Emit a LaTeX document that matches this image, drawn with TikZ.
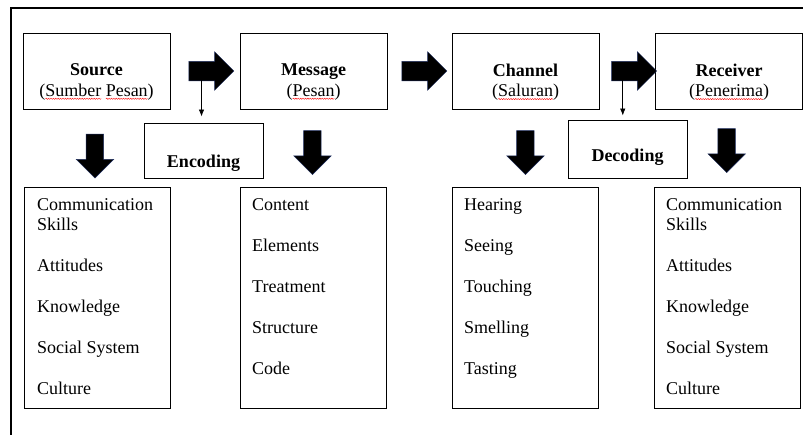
\documentclass[tikz,border=0pt]{standalone}
\usepackage{fontspec}
\setmainfont{Liberation Serif}
\usepackage{xcolor}
\usepackage{tikz}
\usetikzlibrary{positioning}
\usetikzlibrary{calc}
\usetikzlibrary{shapes.arrows}
\usetikzlibrary{arrows.meta}
\usetikzlibrary{decorations.pathmorphing}
\definecolor{pfeilrand}{RGB}{30,45,95}
\newlength\welligbreite
\newcommand\wellig[1]{\settowidth\welligbreite{#1}%
  \rlap{\tikz[baseline=0pt]\draw[red, line width=0.4pt, decorate,
    decoration={snake, amplitude=0.6pt, segment length=2.4pt}]
    (0pt,-2.5pt) -- (\welligbreite,-2.5pt);}#1}
\tikzset{
  Kasten/.style={draw, line width=0.9pt, inner sep=0pt, minimum width=147pt, minimum height=76pt},
  Liste/.style={draw, line width=0.9pt, inner sep=0pt, anchor=north west, minimum width=146pt, minimum height=221pt},
  Code/.style={draw, line width=0.9pt, inner sep=0pt, minimum width=119pt},
  Text/.style={inner sep=0pt, align=center},
  LText/.style={inner sep=0pt, align=left, anchor=north west},
  RPfeil/.style={single arrow, fill=black, draw=pfeilrand, line width=0.5pt, inner xsep=0pt, inner ysep=9.5pt,
    minimum height=45pt, single arrow head extend=9.5pt, single arrow tip angle=90}, % Blockpfeil
  DPfeil/.style={RPfeil, rotate=-90, minimum height=44pt, inner ysep=8.5pt, single arrow head extend=10pt}
}

\begin{document}
\begin{tikzpicture}[x=1pt, y=-1pt,
font=\fontsize{18}{20.5}\selectfont,
>={Latex[length=7pt,width=5.5pt]}
]
\useasboundingbox (0,0) rectangle (803,434);

%Rahmen
\draw[line width=1.2pt] (11,440) -- (11,8) -- (810,8);

%Kaesten oben
\node[Kasten] (src) at (96.5,71) {};
\node[Kasten] (msg) at (313.5,71) {};
\node[Kasten] (chn) at (525.5,71) {};
\node[Kasten] (rcv) at (729,71) {};
\node[Text] (srct) at ([yshift=-11pt]src.center) {\textbf{Source}\\(\wellig{Sumber} \wellig{Pesan})};
\node[Text] (msgt) at ([yshift=-11pt]msg.center) {\textbf{Message}\\(\wellig{Pesan})};
\node[Text] (chnt) at ([yshift=-11pt]chn.center) {\textbf{Channel}\\(\wellig{Saluran})};
\node[Text] (rcvt) at ([yshift=-11pt]rcv.center) {\textbf{Receiver}\\(\wellig{Penerima})};

%Encoding / Decoding
\node[Code, minimum height=55pt] (enc) at (203.5,150.5) {};
\node[Code, minimum height=58pt] (dec) at (627.5,149) {};
\node[Text] (enct) at ([yshift=-12.5pt]enc.center) {\textbf{Encoding}};
\node[Text] (dect) at ([yshift=-8.5pt]dec.center) {\textbf{Decoding}};

%Listen
\node[Liste] (srcl) at (24,187) {};
\node[Liste] (msgl) at (240,187) {};
\node[Liste] (chnl) at (452,187) {};
\node[Liste] (rcvl) at (654,187) {};
\node[LText] (srclt) at ([xshift=13pt,yshift=-11pt]srcl.north west)
  {Communication\\Skills\\[20.5pt]Attitudes\\[20.5pt]Knowledge\\[20.5pt]Social System\\[20.5pt]Culture};
\node[LText] (msglt) at ([xshift=12pt,yshift=-11pt]msgl.north west)
  {Content\\[20.5pt]Elements\\[20.5pt]Treatment\\[20.5pt]Structure\\[20.5pt]Code};
\node[LText] (chnlt) at ([xshift=12pt,yshift=-11pt]chnl.north west)
  {Hearing\\[20.5pt]Seeing\\[20.5pt]Touching\\[20.5pt]Smelling\\[20.5pt]Tasting};
\node[LText] (rcvlt) at ([xshift=12pt,yshift=-11pt]rcvl.north west)
  {Communication\\Skills\\[20.5pt]Attitudes\\[20.5pt]Knowledge\\[20.5pt]Social System\\[20.5pt]Culture};

%Blockpfeile
\node[RPfeil] (p1) at ([xshift=1.5pt]$(src.east)!0.5!(msg.west)$) {};
\node[RPfeil] (p2) at ($(msg.east)!0.5!(chn.west)$) {};
\node[RPfeil] (p3) at ([xshift=2pt]$(chn.east)!0.5!(rcv.west)$) {};
\node[DPfeil] (d1) at ([xshift=-2pt,yshift=-3.5pt]$(src.south)!0.5!(srcl.north)$) {};
\node[DPfeil] (d2) at ([xshift=-1pt]$(msg.south)!0.5!(msgl.north)$) {};
\node[DPfeil] (d3) at ($(chn.south)!0.5!(chnl.north)$) {};
\node[DPfeil] (d4) at ([xshift=-1.5pt,yshift=2pt]$(rcv.south)!0.5!(rcvl.north)$) {};

%duenne Pfeile
\coordinate (encin) at ([yshift=6pt]enc.north);
\coordinate (decin) at ([yshift=4pt]dec.north);
\draw[->, line width=0.8pt] ([xshift=-5pt,yshift=-8pt]p1.center) -- ([xshift=-5pt]p1.center |- encin);
\draw[->, line width=0.8pt] ([xshift=-6.5pt,yshift=-8pt]p3.center) -- ([xshift=-6.5pt]p3.center |- decin);

\end{tikzpicture}
\end{document}
